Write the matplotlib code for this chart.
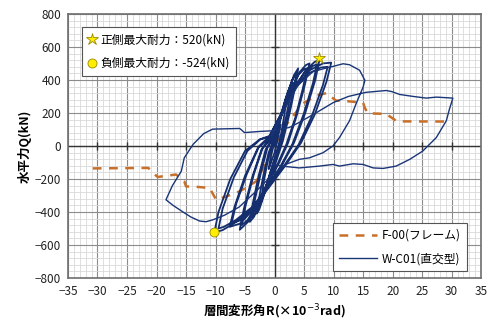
import matplotlib
matplotlib.use("Agg")
import matplotlib.pyplot as plt
from matplotlib.lines import Line2D
import numpy as np

plt.rcParams['font.family'] = ['Noto Sans CJK JP', 'DejaVu Sans']

# ---------------- data ----------------
x_ticks = [-35, -30, -25, -20, -15, -10, -5, 0, 5, 10, 15, 20, 25, 30, 35]
y_ticks = [-800, -600, -400, -200, 0, 200, 400, 600, 800]

# F-00 (frame) envelope
f00_x = [-30.8, -21.4, -20.3, -19.8, -16.7, -15.3, -15.0, -12.7, -11.0, -9.9, -8.2, -5.9, -3.1,
         0.0, 2.0, 4.8, 7.1, 8.8, 10.4, 12.7, 15.0, 15.3, 15.8, 18.9, 20.3, 20.6, 29.8]
f00_y = [-136, -133, -173, -188, -173, -214, -245, -249, -255, -326, -306, -275, -214,
         0, 130, 257, 306, 320, 275, 270, 262, 230, 198, 194, 160, 149, 148]

# W-C01 hysteresis, cycle by cycle
c1 = [(0, 0), (0.4, 60), (0.8, 110), (1.0, 130), (0.8, 90), (0.4, 20), (0, -40), (-0.4, -80),
      (-0.8, -125), (-1.0, -140), (-0.8, -95), (-0.4, -30), (0, 20)]
c2 = [(0.4, 70), (1.0, 160), (1.6, 235), (2.0, 270), (1.7, 200), (1.2, 90), (0.6, -10), (0, -80),
      (-0.8, -170), (-1.5, -250), (-2.1, -290), (-1.8, -210), (-1.2, -100), (-0.5, 0)]
c3 = [(0.2, 60), (1.0, 170), (1.9, 290), (2.6, 355), (3.0, 380), (2.6, 290), (1.8, 150), (1.0, 30),
      (0.2, -60), (-0.8, -170), (-1.8, -300), (-2.6, -385), (-3.0, -410), (-2.6, -310),
      (-1.8, -160), (-1.0, -40)]
c4 = [(-0.1, 40), (1.0, 170), (2.2, 320), (3.3, 430), (4.0, 470), (3.5, 360), (2.5, 190), (1.4, 30),
      (0.3, -90), (-1.0, -210), (-2.3, -340), (-3.5, -430), (-4.2, -460), (-3.7, -350),
      (-2.7, -180), (-1.5, -20)]
c4b = [(-0.6, 30), (0.8, 160), (2.0, 300), (3.0, 400), (3.7, 440), (3.2, 330), (2.2, 170), (1.1, 20),
       (0.0, -100), (-1.2, -220), (-2.4, -340), (-3.3, -410), (-3.8, -430), (-3.3, -320),
       (-2.3, -160), (-1.2, -10)]
c5 = [(-0.3, 40), (1.2, 190), (2.8, 340), (4.3, 450), (5.3, 490), (5.9, 500), (5.2, 380), (3.8, 190),
      (2.3, 20), (0.8, -100), (-1.0, -220), (-2.9, -360), (-4.5, -460), (-5.9, -508), (-5.2, -380),
      (-3.8, -190), (-2.2, -20)]
c5b = [(-0.4, 50), (1.0, 180), (2.6, 330), (4.0, 430), (5.0, 465), (5.5, 470), (4.8, 350), (3.5, 170),
       (2.0, 10), (0.5, -110), (-1.3, -230), (-3.0, -360), (-4.6, -450), (-5.6, -480), (-4.9, -360),
       (-3.5, -170), (-2.0, -10)]
c6 = [(-0.5, 50), (1.3, 200), (3.3, 350), (5.3, 460), (6.8, 510), (7.6, 520), (6.9, 400), (5.2, 200),
      (3.3, 20), (1.2, -120), (-1.2, -250), (-3.5, -380), (-5.8, -470), (-7.6, -490), (-6.8, -370),
      (-5.0, -180), (-2.8, -10)]
c6b = [(-0.6, 50), (1.2, 195), (3.1, 340), (5.0, 440), (6.5, 485), (7.2, 495), (6.5, 380), (4.9, 190),
       (3.0, 10), (0.9, -130), (-1.5, -260), (-3.7, -380), (-5.8, -450), (-7.3, -470), (-6.5, -350),
       (-4.7, -170), (-2.6, 0)]
c7 = [(-0.8, 60), (1.3, 210), (3.6, 360), (6.0, 460), (8.2, 500), (9.6, 505), (8.8, 390), (6.8, 190),
      (4.5, 20), (2.0, -110), (-0.5, -230), (-3.5, -370), (-6.5, -460), (-8.8, -510), (-10.2, -524),
      (-9.5, -400), (-7.5, -200), (-5.0, -30), (-2.5, 40)]
c7b = [(-0.9, 60), (1.2, 200), (3.4, 345), (5.8, 440), (7.8, 475), (9.0, 480), (8.2, 370), (6.3, 180),
       (4.1, 10), (1.6, -120), (-0.9, -240), (-3.8, -370), (-6.6, -450), (-8.6, -490), (-9.5, -500),
       (-8.8, -380), (-6.9, -190), (-4.6, -30), (-2.4, 40)]
c8 = [(-0.5, 60), (1.5, 210), (4.0, 370), (6.5, 450), (8.5, 470), (9.9, 482), (11.6, 498), (12.7, 492),
      (14.4, 459), (15.3, 398), (15.0, 357), (13.8, 255), (12.7, 153), (11.0, 51), (9.9, 0),
      (8.2, -41), (5.9, -72), (4.2, -81), (2.0, -110), (-0.5, -180), (-3.0, -270), (-6.0, -370),
      (-8.5, -420), (-10.5, -448), (-11.6, -459), (-12.7, -455), (-14.2, -430), (-15.6, -398),
      (-17.2, -360), (-18.4, -326), (-17.3, -240), (-15.8, -153), (-15.3, -72), (-13.8, 10),
      (-12.0, 75), (-10.5, 102), (-5.9, 106), (-5.1, 81), (-2.5, 88), (-0.3, 92)]
c9 = [(-0.3, 92), (2.5, 112), (4.2, 143), (7.0, 200), (9.9, 262), (12.5, 300), (15.5, 325), (18.9, 336),
      (19.8, 330), (21.2, 312), (23.5, 300), (25.7, 290), (27.4, 296), (30.2, 290), (29.6, 220),
      (29.1, 153), (27.4, 51), (25.1, -31), (22.9, -81), (20.6, -122), (18.4, -136), (16.7, -133),
      (15.0, -112), (13.3, -108), (11.0, -122), (9.9, -112), (7.6, -122), (4.2, -133), (2.0, -125),
      (-0.3, -112)]
inner_cycles = [c1, c2, c3, c4, c4b, c5, c5b, c6, c6b, c7, c7b]
outer_cycles = [c8, c9]

pos_max = (7.6, 532)
neg_max = (-10.2, -524)

# ---------------- figure ----------------
fig = plt.figure(figsize=(4.89, 3.24), dpi=100)
ax = fig.add_axes([0.139, 0.142, 0.845, 0.815])

ax.set_xlim(-35, 35)
ax.set_ylim(-800, 800)
ax.set_xticks(x_ticks)
ax.set_yticks(y_ticks)
ax.set_xticks(np.arange(-35, 36, 1), minor=True)
ax.set_yticks(np.arange(-800, 801, 40), minor=True)
ax.grid(which='minor', color='#d9d9d9', linewidth=0.6)
ax.grid(which='major', color='#8c8c8c', linewidth=0.8)
ax.set_axisbelow(True)
ax.tick_params(which='both', length=0, labelsize=8.5, colors='#222222', pad=5)
for s in ax.spines.values():
    s.set_color('#6e6e6e')
    s.set_linewidth(1.2)

# crossing axes with tick marks
ax.axhline(0, color='#333333', linewidth=1.0, zorder=1.5)
ax.axvline(0, color='#333333', linewidth=1.0, zorder=1.5)
ax.plot(x_ticks[1:-1], [0] * len(x_ticks[1:-1]), linestyle='none', marker='|', markersize=6,
        color='#333333', markeredgewidth=1.0, zorder=1.5)
ax.plot([0] * len(y_ticks[1:-1]), y_ticks[1:-1], linestyle='none', marker='_', markersize=6,
        color='#333333', markeredgewidth=1.0, zorder=1.5)

blue = '#1a3578'
orange = '#c8702a'

ix = [p[0] for c in inner_cycles for p in c] + [outer_cycles[0][0][0]]
iy = [p[1] for c in inner_cycles for p in c] + [outer_cycles[0][0][1]]
ax.plot(ix, iy, color='#142e6e', linewidth=1.3, zorder=3, solid_joinstyle='round')
ox = [p[0] for c in outer_cycles for p in c]
oy = [p[1] for c in outer_cycles for p in c]
ax.plot(ox, oy, color=blue, linewidth=1.0, zorder=3, solid_joinstyle='round')
ax.plot(f00_x, f00_y, color=orange, linewidth=1.8, dashes=(3.5, 3), zorder=2.5)

ax.plot([pos_max[0]], [pos_max[1]], marker='*', markersize=9, color='#ffee00',
        markeredgecolor='#9a8a00', markeredgewidth=0.6, linestyle='none', zorder=5)
ax.plot([neg_max[0]], [neg_max[1]], marker='o', markersize=6.5, color='#ffee00',
        markeredgecolor='#9a8a00', markeredgewidth=0.6, linestyle='none', zorder=5)

# legends
h1 = [Line2D([], [], marker='*', markersize=9, color='#ffee00', markeredgecolor='#9a8a00',
             markeredgewidth=0.6, linestyle='none'),
      Line2D([], [], marker='o', markersize=6.5, color='#ffee00', markeredgecolor='#9a8a00',
             markeredgewidth=0.6, linestyle='none')]
leg1 = ax.legend(h1, ['正側最大耐力：520(kN)', '負側最大耐力：-524(kN)'], loc='upper left',
                 bbox_to_anchor=(0.033, 0.95), fontsize=8.5, frameon=True, fancybox=False,
                 edgecolor='#555555', framealpha=1, handlelength=0.8, handletextpad=0.3,
                 labelspacing=0.9, borderpad=0.5, borderaxespad=0)
leg1.get_frame().set_linewidth(0.8)
ax.add_artist(leg1)

h2 = [Line2D([], [], color=orange, linewidth=1.8, dashes=(3.5, 3)),
      Line2D([], [], color=blue, linewidth=1.0)]
leg2 = ax.legend(h2, ['F-00(フレーム)', 'W-C01(直交型)'], loc='lower right',
                 bbox_to_anchor=(0.965, 0.025), fontsize=8.5, frameon=True, fancybox=False,
                 edgecolor='#555555', framealpha=1, handlelength=3.2, handletextpad=0.4,
                 labelspacing=0.9, borderpad=0.5, borderaxespad=0)
leg2.get_frame().set_linewidth(0.8)

ax.set_ylabel('水平力Q(kN)', fontsize=9, fontweight='bold', labelpad=2)
ax.set_xlabel('層間変形角R(×10$^{-3}$rad)', fontsize=9, fontweight='bold', labelpad=3)

fig.savefig('out.png', dpi=100)
